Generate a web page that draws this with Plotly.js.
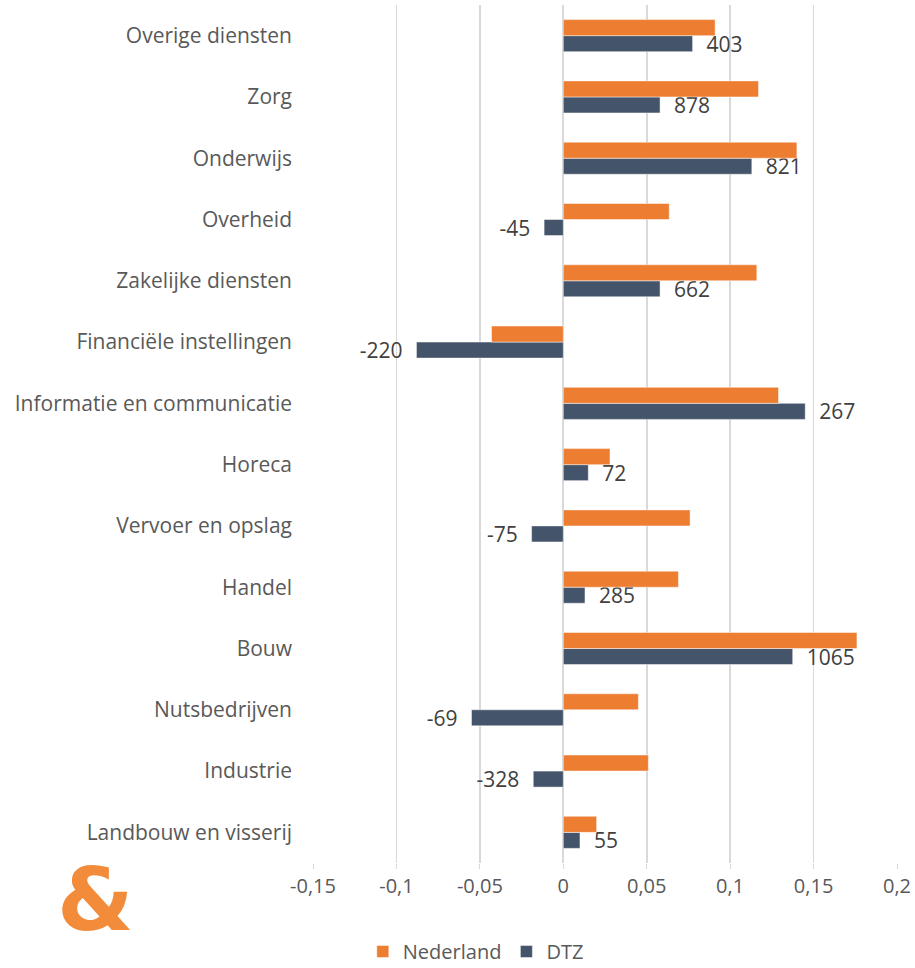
<!DOCTYPE html>
<html>
<head>
<meta charset="utf-8">
<script src="https://cdn.plot.ly/plotly-3.0.1.min.js"></script>
<style>html,body{margin:0;padding:0;background:#fff;}#chart{width:915px;height:968px;}</style>
</head>
<body>
<div id="chart"></div>
<script>
const categories = ['Landbouw en visserij','Industrie','Nutsbedrijven','Bouw','Handel','Vervoer en opslag','Horeca','Informatie en communicatie','Financiële instellingen','Zakelijke diensten','Overheid','Onderwijs','Zorg','Overige diensten'];
const nederland = [0.020, 0.051, 0.045, 0.176, 0.069, 0.076, 0.028, 0.129, -0.043, 0.116, 0.0635, 0.140, 0.117, 0.091];
const dtz = [0.010, -0.018, -0.055, 0.1375, 0.013, -0.019, 0.015, 0.145, -0.088, 0.058, -0.0115, 0.113, 0.058, 0.0775];
const dtzLabels = ['55','-328','-69','1065','285','-75','72','267','-220','662','-45','821','878','403'];
const tickVals = [-0.15,-0.1,-0.05,0,0.05,0.1,0.15,0.2];
const tickText = ['-0,15','-0,1','-0,05','0','0,05','0,1','0,15','0,2'];

const pad = '\u00a0\u00a0';
const paddedLabels = dtzLabels.map((t,i)=> dtz[i] < 0 ? t + pad : pad + t);

const font = 'Open Sans, sans-serif';
const traces = [
  {type:'bar', orientation:'h', name:'DTZ', y:categories, x:dtz,
   marker:{color:'#44546A', line:{color:'rgba(255,255,255,0.6)', width:0.8}},
   text:paddedLabels, textposition:'outside', constraintext:'none', cliponaxis:false,
   textfont:{family:font, size:21, color:'#404040'}, hoverinfo:'skip'},
  {type:'bar', orientation:'h', name:'Nederland', y:categories, x:nederland,
   marker:{color:'#ED7D31', line:{color:'rgba(255,255,255,0.6)', width:0.8}}, hoverinfo:'skip'}
];

const layout = {
  width:915, height:968,
  margin:{l:313, r:18, t:5, b:105},
  paper_bgcolor:'#fff', plot_bgcolor:'#fff',
  barmode:'group', bargap:0.477, bargroupgap:0,
  font:{family:font, color:'#595959', size:20},
  xaxis:{range:[-0.15,0.2], tickvals:tickVals, ticktext:tickText, showgrid:true,
    gridcolor:'#D9D9D9', gridwidth:1.8, zeroline:true, zerolinecolor:'#D9D9D9', zerolinewidth:1.8,
    ticks:'outside', ticklen:5, tickcolor:'#D9D9D9', showline:false,
    tickfont:{family:font, size:20, color:'#595959'}, fixedrange:true},
  yaxis:{type:'category', categoryorder:'array', categoryarray:categories, showgrid:false,
    zeroline:false, showline:false, ticks:'', ticklabelstandoff:20,
    tickfont:{family:font, size:21, color:'#595959'}, fixedrange:true},
  showlegend:true,
  legend:{orientation:'h', traceorder:'reversed', xref:'container', yref:'container',
    x:0.52, xanchor:'center', y:0.017, yanchor:'middle', itemwidth:30,
    font:{family:font, size:20, color:'#595959'}},
  annotations:[{text:'<b>&</b>', xref:'paper', yref:'paper', x:-0.3716, y:-0.043,
    xanchor:'center', yanchor:'middle', showarrow:false,
    font:{family:'DejaVu Sans, sans-serif', size:88, color:'#F28C3A'}}]
};
Plotly.newPlot('chart', traces, layout, {displayModeBar:false, staticPlot:true});
</script>
</body>
</html>
